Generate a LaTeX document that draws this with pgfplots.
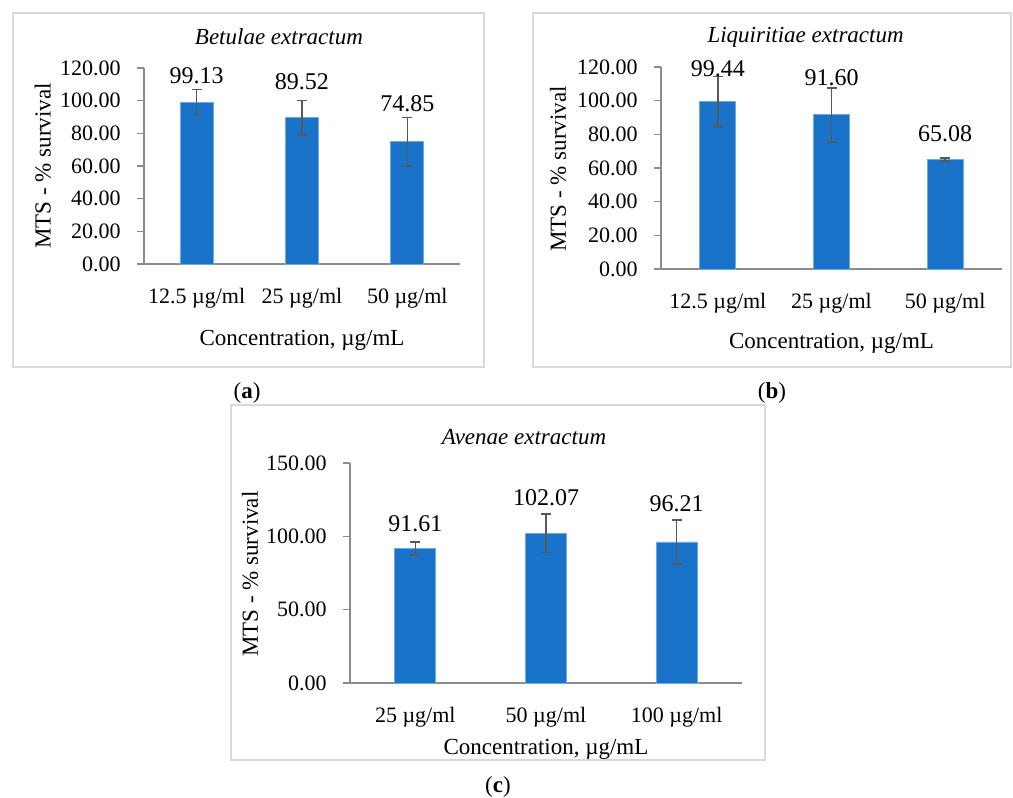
\documentclass[border=0pt]{standalone}
\usepackage{fontspec}
\setmainfont{Liberation Serif}
\usepackage{pgfplots}
\pgfplotsset{compat=1.18}
\definecolor{barblue}{RGB}{25,115,200}
\definecolor{baredge}{RGB}{110,170,225}
\definecolor{axgray}{RGB}{140,140,140}
\definecolor{errgray}{RGB}{89,89,89}
\definecolor{boxgray}{RGB}{217,217,217}
\pgfplotsset{
  panel/.style={
    scale only axis,
    ybar,
    axis x line*=bottom, axis y line*=left,
    axis line style={axgray, line width=0.75pt},
    xmin=0, xmax=3, ymin=0,
    xtick={0.5,1.5,2.5},
    tick align=outside, major tick length=3.5pt,
    tick style={axgray, line width=0.75pt},
    major x tick style=transparent,
    tick label style={font=\fontsize{11}{13}\selectfont},
    label style={font=\fontsize{11.5}{13}\selectfont},
    every axis title shift=0pt,
    title style={font=\itshape\fontsize{11.5}{13}\selectfont, anchor=center},
    yticklabel style={anchor=east, inner xsep=0pt, xshift=-8pt,
      /pgf/number format/.cd, fixed, fixed zerofill, precision=2, assume math mode=true},
    xticklabel style={anchor=base, inner sep=0pt, yshift=-16pt},
    ylabel style={anchor=center},
    xlabel style={anchor=center},
    clip=false,
  },
  errstyle/.style={
    error bars/.cd, y dir=both, y explicit,
    error bar style={errgray, line width=0.8pt},
    error mark options={rotate=90, errgray, mark size=2.5pt, line width=0.8pt},
  },
}
\newcommand{\dl}{\fontsize{12}{14}\selectfont}
\begin{document}
\begin{tikzpicture}
\path[use as bounding box] (0,0) rectangle (506.5pt,-399pt);
% panel boxes
\draw[boxgray, line width=0.8pt] (6.5pt,-6.5pt) rectangle (242pt,-183.5pt);
\draw[boxgray, line width=0.8pt] (266.5pt,-6.5pt) rectangle (505.5pt,-183.5pt);
\draw[boxgray, line width=0.8pt] (115.5pt,-202.5pt) rectangle (382.5pt,-380pt);
% (a)
\begin{axis}[panel, at={(72pt,-132pt)}, anchor=south west,
  width=158pt, height=98pt, ymax=120, ytick={0,20,...,120},
  bar width=16.5pt,
  xticklabels={12.5 µg/ml, 25 µg/ml, 50 µg/ml},
  title={Betulae extractum},
  title style={at={(axis description cs:0.427,1.158)}},
  ylabel={MTS - \% survival},
  ylabel style={at={(axis description cs:-0.320,0.5)}},
  xlabel={Concentration, µg/mL},
  xlabel style={at={(axis description cs:0.5,-0.388)}},
]
\addplot[fill=barblue, draw=baredge, line width=0.4pt, errstyle] coordinates {
  (0.5,99.13) +- (0,7.7)
  (1.5,89.52) +- (0,10.6)
  (2.5,74.85) +- (0,14.8)
};
\node[font=\dl] at (axis cs:0.5,115.1) {99.13};
\node[font=\dl] at (axis cs:1.5,111.4) {89.52};
\node[font=\dl] at (axis cs:2.5,98.0) {74.85};
\end{axis}
% (b)
\begin{axis}[panel, at={(330.5pt,-134.5pt)}, anchor=south west,
  width=170.5pt, height=101pt, ymax=120, ytick={0,20,...,120},
  bar width=18pt,
  xticklabels={12.5 µg/ml, 25 µg/ml, 50 µg/ml},
  title={Liquiritiae extractum},
  title style={at={(axis description cs:0.424,1.149)}},
  ylabel={MTS - \% survival},
  ylabel style={at={(axis description cs:-0.302,0.495)}},
  xlabel={Concentration, µg/mL},
  xlabel style={at={(axis description cs:0.5,-0.366)}},
]
\addplot[fill=barblue, draw=baredge, line width=0.4pt, errstyle] coordinates {
  (0.5,99.44) +- (0,15.0)
  (1.5,91.60) +- (0,16.1)
  (2.5,65.08) +- (0,0.8)
};
\node[font=\dl] at (axis cs:0.5,119.2) {99.44};
\node[font=\dl] at (axis cs:1.5,113.9) {91.60};
\node[font=\dl] at (axis cs:2.5,80.6) {65.08};
\end{axis}
% (c)
\begin{axis}[panel, at={(175pt,-341.5pt)}, anchor=south west,
  width=196pt, height=110pt, ymax=150, ytick={0,50,100,150},
  bar width=20.5pt,
  xticklabels={25 µg/ml, 50 µg/ml, 100 µg/ml},
  title={Avenae extractum},
  title style={at={(axis description cs:0.444,1.118)}},
  ylabel={MTS - \% survival},
  ylabel style={at={(axis description cs:-0.255,0.495)}},
  xlabel={Concentration, µg/mL},
  xlabel style={at={(axis description cs:0.5,-0.300)}},
]
\addplot[fill=barblue, draw=baredge, line width=0.4pt, errstyle] coordinates {
  (0.5,91.61) +- (0,4.5)
  (1.5,102.07) +- (0,13.0)
  (2.5,96.21) +- (0,15.0)
};
\node[font=\dl] at (axis cs:0.5,108.9) {91.61};
\node[font=\dl] at (axis cs:1.5,126.6) {102.07};
\node[font=\dl] at (axis cs:2.5,122.5) {96.21};
\end{axis}
% panel letters
\node[font=\fontsize{11.5}{13}\selectfont] at (123.5pt,-196.5pt) {(\textbf{a})};
\node[font=\fontsize{11.5}{13}\selectfont] at (386pt,-196.5pt) {(\textbf{b})};
\node[font=\fontsize{11.5}{13}\selectfont] at (249pt,-393.5pt) {(\textbf{c})};
\end{tikzpicture}
\end{document}
